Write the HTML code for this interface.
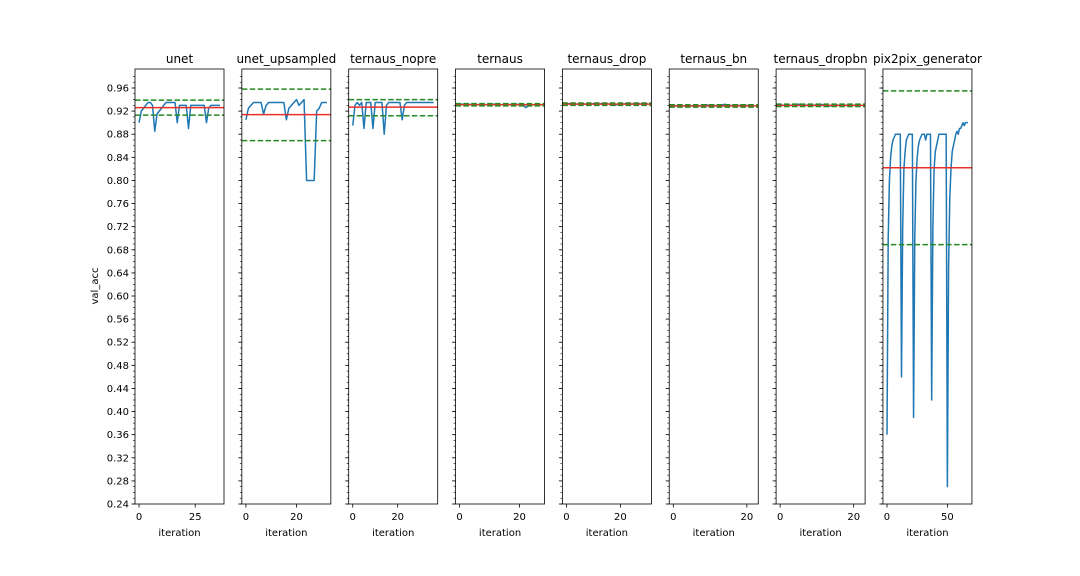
<!DOCTYPE html>
<html><head><meta charset="utf-8"><style>
body{margin:0;background:#fff;}
svg{display:block;font-family:"DejaVu Sans","Liberation Sans",sans-serif;}
</style></head><body>
<svg id="c" width="1080" height="576"></svg>
<script>
const titles=["unet","unet_upsampled","ternaus_nopre","ternaus","ternaus_drop","ternaus_bn","ternaus_dropbn","pix2pix_generator"];
const s0=[0.90,0.92,0.925,0.93,0.935,0.935,0.93,0.885,0.915,0.92,0.925,0.93,0.935,0.935,0.935,0.935,0.935,0.90,0.93,0.93,0.93,0.93,0.89,0.93,0.93,0.93,0.93,0.93,0.93,0.93,0.90,0.925,0.93,0.93,0.93,0.93,0.93];
const s1=[0.905,0.925,0.93,0.935,0.935,0.935,0.935,0.915,0.93,0.935,0.935,0.935,0.935,0.935,0.935,0.935,0.905,0.925,0.93,0.935,0.94,0.93,0.935,0.94,0.80,0.80,0.80,0.80,0.92,0.925,0.935,0.935,0.935];
const s2=[0.895,0.93,0.935,0.93,0.935,0.89,0.935,0.935,0.935,0.89,0.935,0.935,0.935,0.935,0.88,0.93,0.935,0.935,0.935,0.935,0.935,0.935,0.905,0.93,0.935,0.935,0.935,0.935,0.935,0.935,0.935,0.935,0.935,0.935,0.935,0.935,0.935];
const s3=[0.932,0.932,0.931,0.931,0.932,0.931,0.931,0.932,0.932,0.931,0.931,0.932,0.932,0.931,0.931,0.932,0.932,0.931,0.932,0.932,0.931,0.932,0.926,0.929,0.931,0.931,0.931,0.932];
const s4=[0.933,0.933,0.932,0.933,0.932,0.933,0.933,0.932,0.933,0.932,0.933,0.933,0.932,0.933,0.932,0.933,0.932,0.933,0.930,0.932,0.933,0.932,0.933,0.933,0.932,0.933,0.932,0.933,0.932,0.933,0.933];
const s5=[0.930,0.929,0.930,0.929,0.930,0.929,0.930,0.929,0.930,0.931,0.929,0.930,0.929,0.930,0.932,0.929,0.930,0.929,0.930,0.929,0.930,0.929,0.930];
const s6=[0.931,0.930,0.931,0.930,0.931,0.932,0.931,0.930,0.931,0.930,0.931,0.932,0.930,0.928,0.930,0.931,0.930,0.931,0.930,0.931,0.930,0.931,0.930];
const s7=[0.36,0.70,0.80,0.84,0.86,0.87,0.875,0.88,0.88,0.88,0.88,0.88,0.46,0.72,0.82,0.85,0.87,0.875,0.88,0.88,0.88,0.88,0.39,0.70,0.80,0.84,0.86,0.87,0.875,0.88,0.88,0.88,0.87,0.88,0.88,0.88,0.88,0.42,0.72,0.82,0.85,0.86,0.87,0.88,0.88,0.88,0.88,0.88,0.88,0.88,0.27,0.65,0.77,0.82,0.85,0.86,0.87,0.88,0.885,0.88,0.89,0.89,0.895,0.90,0.895,0.90,0.90,0.90];
const series=[s0,s1,s2,s3,s4,s5,s6,s7];
const means=[0.926,0.914,0.927,0.931,0.932,0.929,0.930,0.822];
const upper=[0.939,0.958,0.940,0.933,0.934,0.931,0.932,0.955];
const lower=[0.913,0.869,0.912,0.929,0.930,0.927,0.928,0.689];
const xticks=[[0,25],[0,20],[0,20],[0,20],[0,20],[0,20],[0,20],[0,50]];
const yticks=[0.24,0.28,0.32,0.36,0.40,0.44,0.48,0.52,0.56,0.60,0.64,0.68,0.72,0.76,0.80,0.84,0.88,0.92,0.96];

const NS="http://www.w3.org/2000/svg";
const svg=document.getElementById('c');
function el(t,a,p){const e=document.createElementNS(NS,t);for(const k in a)e.setAttribute(k,a[k]);(p||svg).appendChild(e);return e;}
const topY=69,bot=504,w=89,y0=0.24,y1=0.9929;
function Y(v){return bot-(v-y0)/(y1-y0)*(bot-topY);}
for(let p=0;p<8;p++){
  const left=135+p*106.85, n=series[p].length-1;
  const xmin=-0.05*n, xmax=1.05*n;
  const X=v=>left+(v-xmin)/(xmax-xmin)*w;
  const g=el('g',{});
  
  
  const t=el('text',{x:left+w/2,y:63,'text-anchor':'middle','font-size':12},g);t.textContent=titles[p];
  
  
  for(let v=0.24;v<=0.99;v+=0.01){const yy=Y(v);el('line',{x1:left-2,x2:left,y1:yy,y2:yy,stroke:'#000','stroke-width':0.6},g);}
  yticks.forEach(v=>{const yy=Y(v);el('line',{x1:left-3.5,x2:left,y1:yy,y2:yy,stroke:'#000','stroke-width':0.8},g);
    if(p===0){const tt=el('text',{x:left-6,y:yy+3.5,'text-anchor':'end','font-size':10},g);tt.textContent=v.toFixed(2);
      
      }});
  xticks[p].forEach(v=>{const xx=X(v);el('line',{x1:xx,x2:xx,y1:bot,y2:bot+3.5,stroke:'#000','stroke-width':0.8},g);
    const tt=el('text',{x:xx,y:bot+16,'text-anchor':'middle','font-size':10},g);tt.textContent=v;
    
    });
  const xl=el('text',{x:left+w/2,y:536,'text-anchor':'middle','font-size':10},g);xl.textContent='iteration';
  
  
  const d=series[p].map((v,i)=>(i?'L':'M')+X(i).toFixed(2)+','+Y(v).toFixed(2)).join('');
  const ln=el('path',{d:d,fill:'none',stroke:'#1f77b4','stroke-width':1.5,'stroke-linejoin':'round'},g);
  
  
  const m=el('line',{x1:left,x2:left+w,y1:Y(means[p]),y2:Y(means[p]),stroke:'#e8302a','stroke-width':1.5},g);
  
  
  [upper[p],lower[p]].forEach(v=>{const b=el('line',{x1:left,x2:left+w,y1:Y(v),y2:Y(v),stroke:'#238b23','stroke-width':1.5,'stroke-dasharray':'5.5,2.4'},g);
    
    });
  el('rect',{x:left,y:topY,width:w,height:bot-topY,fill:'none',stroke:'#000','stroke-width':0.8},g);
}
const yl=el('text',{x:98,y:286,'text-anchor':'middle','font-size':10,transform:'rotate(-90 98 286)'});yl.textContent='val_acc';


</script>
</body></html>
